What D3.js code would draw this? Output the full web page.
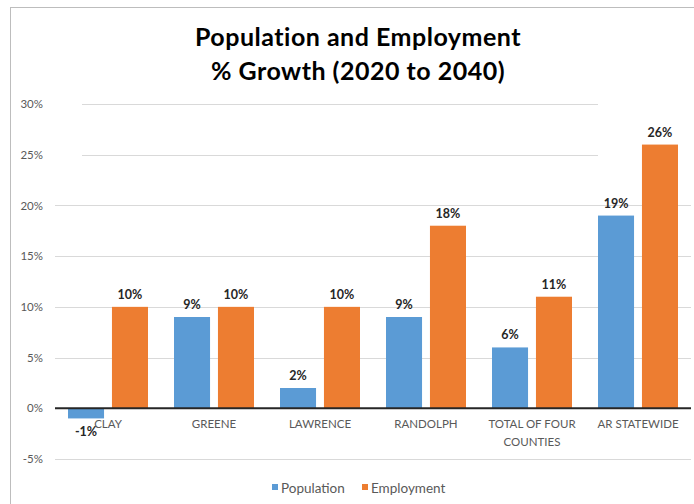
<!DOCTYPE html>
<html><head><meta charset="utf-8">
<script src="https://cdn.jsdelivr.net/npm/d3@7"></script>
<style>body{margin:0;background:#fff;} svg{display:block;}</style>
</head><body>
<svg id="c" width="694" height="504"></svg>
<script>
const categories = ["CLAY", "GREENE", "LAWRENCE", "RANDOLPH", "TOTAL OF FOUR COUNTIES", "AR STATEWIDE"];
const categoryLines = [["CLAY"], ["GREENE"], ["LAWRENCE"], ["RANDOLPH"], ["TOTAL OF FOUR", "COUNTIES"], ["AR STATEWIDE"]];
const seriesNames = ["Population", "Employment"];
const population = [-1, 9, 2, 9, 6, 19];
const employment = [10, 10, 10, 18, 11, 26];
const yTicks = [-5, 0, 5, 10, 15, 20, 25, 30];
const colors = ["#5B9BD5", "#ED7D31"];

const svg = d3.select("#c");
const font = "Lato, 'Open Sans', sans-serif";

// frame
svg.append("line").attr("x1",10.5).attr("x2",10.5).attr("y1",7).attr("y2",504).attr("stroke","#bdbdbd");
svg.append("line").attr("x1",10).attr("x2",694).attr("y1",7.5).attr("y2",7.5).attr("stroke","#bdbdbd");

const y = d3.scaleLinear().domain([-5, 30]).range([459, 104]);
const x0 = d3.scaleBand().domain(categories).range([55, 691]);
const x1 = d3.scaleBand().domain(seriesNames).range([13, 93]).paddingInner(0.18);

// gridlines (top two are partially covered in the reference)
svg.append("g").selectAll("line").data(yTicks.filter(d=>d!==0)).join("line")
  .attr("x1",d=>d>=25?82:55).attr("x2",d=>d>=25?598:691)
  .attr("y1",d=>Math.round(y(d))+0.5).attr("y2",d=>Math.round(y(d))+0.5)
  .attr("stroke","#d9d9d9").attr("stroke-width",1);

// y axis labels
const yAxis = d3.axisLeft(y).tickValues(yTicks).tickFormat(d=>d+"%").tickSize(0).tickPadding(0);
const ya = svg.append("g").attr("transform","translate(43,0)").call(yAxis);
ya.select(".domain").remove();
ya.selectAll("text").attr("fill","#595959").style("font-family",font).style("font-size","11.5px");

// bars
const data = categories.map((c,i)=>({c, vals:[{s:"Population",v:population[i]},{s:"Employment",v:employment[i]}]}));
const groups = svg.append("g").selectAll("g").data(data).join("g")
  .attr("transform",d=>`translate(${x0(d.c)},0)`);
groups.selectAll("rect").data(d=>d.vals).join("rect")
  .attr("x",d=>x1(d.s)).attr("width",x1.bandwidth())
  .attr("y",d=>y(Math.max(0,d.v))).attr("height",d=>Math.abs(y(d.v)-y(0)))
  .attr("fill",(d,i)=>colors[i]);
groups.selectAll("text.lbl").data(d=>d.vals).join("text").attr("class","lbl")
  .attr("x",d=>x1(d.s)+x1.bandwidth()/2)
  .attr("y",d=>d.v>=0 ? y(d.v)-8 : y(d.v)+18)
  .attr("text-anchor","middle").attr("fill","#262626")
  .style("font-family",font).style("font-size","12.5px").style("font-weight","bold")
  .text(d=>d.v+"%");

// zero axis
svg.append("line").attr("x1",55).attr("x2",691).attr("y1",y(0)).attr("y2",y(0))
  .attr("stroke","#262626").attr("stroke-width",2);

// category labels
const cl = svg.append("g").selectAll("text").data(categories).join("text")
  .attr("x",d=>x0(d)+x0.bandwidth()/2).attr("y",428)
  .attr("text-anchor","middle").attr("fill","#595959")
  .style("font-family",font).style("font-size","11.5px");
cl.each(function(d,i){
  const t = d3.select(this);
  categoryLines[i].forEach((ln,j)=>t.append("tspan").attr("x",x0(d)+x0.bandwidth()/2).attr("dy", j===0?0:18).text(ln));
});

// title
const title = svg.append("text").attr("x",358).attr("text-anchor","middle")
  .attr("fill","#000").style("font-family",font).style("font-size","25px").style("font-weight","bold")
  .style("letter-spacing","0.5px");
title.append("tspan").attr("x",358).attr("y",46).text("Population and Employment");
title.append("tspan").attr("x",358).attr("y",80).text("% Growth (2020 to 2040)");

// legend
const legendX = [272, 362];
const lg = svg.append("g").selectAll("g").data(seriesNames).join("g")
  .attr("transform",(d,i)=>`translate(${legendX[i]},488)`);
lg.append("rect").attr("x",0).attr("y",-4).attr("width",6).attr("height",6).attr("fill",(d,i)=>colors[i]);
lg.append("text").attr("x",9).attr("y",4.5).attr("fill","#595959")
  .style("font-family",font).style("font-size","13.5px").text(d=>d);
</script>
</body></html>
